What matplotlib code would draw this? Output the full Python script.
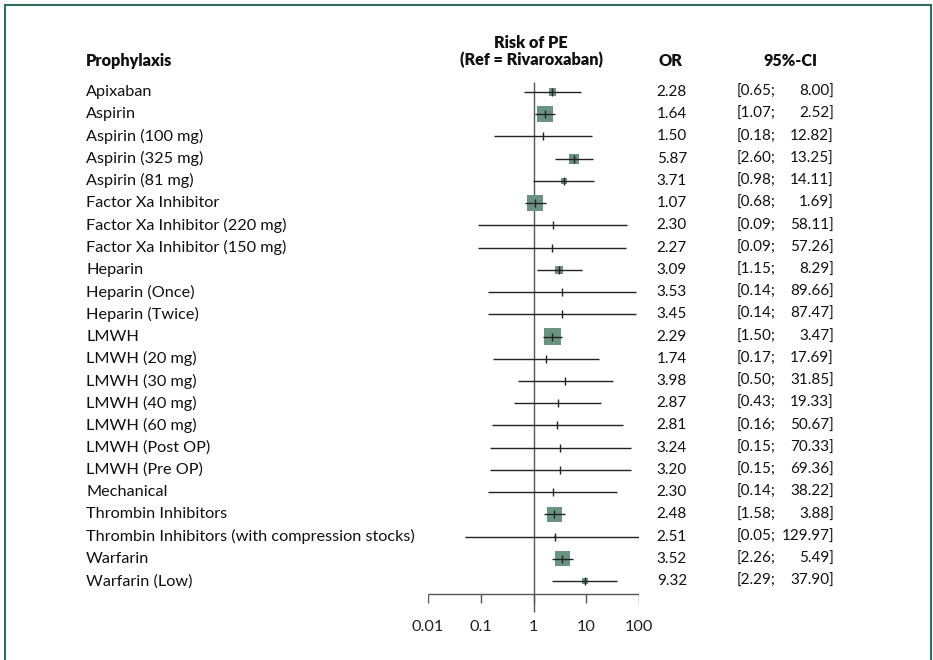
import numpy as np
import matplotlib
matplotlib.use("Agg")
import matplotlib.pyplot as plt
import matplotlib.transforms as mtransforms
from matplotlib.lines import Line2D

# forest plot data: risk of PE vs rivaroxaban
labels = [
    "Apixaban", "Aspirin", "Aspirin (100 mg)", "Aspirin (325 mg)", "Aspirin (81 mg)",
    "Factor Xa Inhibitor", "Factor Xa Inhibitor (220 mg)", "Factor Xa Inhibitor (150 mg)",
    "Heparin", "Heparin (Once)", "Heparin (Twice)", "LMWH", "LMWH (20 mg)",
    "LMWH (30 mg)", "LMWH (40 mg)", "LMWH (60 mg)", "LMWH (Post OP)", "LMWH (Pre OP)",
    "Mechanical", "Thrombin Inhibitors", "Thrombin Inhibitors (with compression stocks)",
    "Warfarin", "Warfarin (Low)",
]
odds_ratio = [2.28, 1.64, 1.50, 5.87, 3.71, 1.07, 2.30, 2.27, 3.09, 3.53, 3.45, 2.29,
              1.74, 3.98, 2.87, 2.81, 3.24, 3.20, 2.30, 2.48, 2.51, 3.52, 9.32]
ci_lower = [0.65, 1.07, 0.18, 2.60, 0.98, 0.68, 0.09, 0.09, 1.15, 0.14, 0.14, 1.50,
            0.17, 0.50, 0.43, 0.16, 0.15, 0.15, 0.14, 1.58, 0.05, 2.26, 2.29]
ci_upper = [8.00, 2.52, 12.82, 13.25, 14.11, 1.69, 58.11, 57.26, 8.29, 89.66, 87.47, 3.47,
            17.69, 31.85, 19.33, 50.67, 70.33, 69.36, 38.22, 3.88, 129.97, 5.49, 37.90]
# study weights in percent
weights = [3.2, 16.5, 0.1, 6.5, 2.3, 16.5, 0.1, 0.1, 4.1, 0.1, 0.1, 18.7, 0.1,
           0.1, 0.1, 0.1, 0.1, 0.1, 0.1, 14.5, 0.1, 14.5, 2.3]
x_ticks = [0.01, 0.1, 1, 10, 100]
x_tick_labels = ["0.01", "0.1", "1", "10", "100"]

W, H = 933, 660
plt.rcParams['font.family'] = ['Lato', 'DejaVu Sans']
fs = 11.7      # labels
fs_num = 11.0  # numeric columns
line_col = '#222222'
axis_col = '#555555'
box_col = '#6a9382'
border_col = '#2f6e5c'

fig = plt.figure(figsize=(W / 100, H / 100), dpi=100)

# pixel helpers (layout only)
ROW0, ROWSTEP = 92, 22.23
def row_at(py):
    return (py - ROW0) / ROWSTEP
def fx(px):
    return px / W

ax_top, ax_bot = 30, 650
ax = fig.add_axes([fx(428), 1 - ax_bot / H, (639 - 428) / W, (ax_bot - ax_top) / H])
ax.set_xscale('log')
ax.set_xlim(0.01, 100)
ax.set_ylim(row_at(ax_bot), row_at(ax_top))
ax.axis('off')

rows = np.arange(len(labels))
trans = mtransforms.blended_transform_factory(fig.transFigure, ax.transData)

# reference line at OR = 1
ax.vlines(1, row_at(82), row_at(612), color=axis_col, lw=1, zorder=1)

# boxes, CI lines, point ticks
side_px = 3.94 * np.sqrt(np.array(weights))
ax.scatter(odds_ratio, rows, marker='s', s=(side_px * 0.72) ** 2, color=box_col,
           edgecolors='none', zorder=2)
ax.hlines(rows, ci_lower, ci_upper, color=line_col, lw=1, zorder=3)
ax.plot(odds_ratio, rows, ls='none', marker='|', markersize=5.5, mew=1,
        color=line_col, zorder=4)

# x axis drawn by hand
y_axis = row_at(594)
ax.hlines(y_axis, x_ticks[0], x_ticks[-1], color=axis_col, lw=1)
ax.vlines(x_ticks, y_axis, row_at(603), color=axis_col, lw=1)
for t, lab in zip(x_ticks, x_tick_labels):
    ax.text(t, row_at(627), lab, ha='center', va='center', fontsize=fs, color='#222222')

# text columns
for r, name, o, lo, hi in zip(rows, labels, odds_ratio, ci_lower, ci_upper):
    ax.text(fx(86), r, name, transform=trans, ha='left', va='center', fontsize=fs, color='#111111')
    ax.text(fx(687), r, f"{o:.2f}", transform=trans, ha='right', va='center', fontsize=fs_num, color='#111111')
    ax.text(fx(737), r, f"[{lo:.2f};", transform=trans, ha='left', va='center', fontsize=fs_num, color='#111111')
    ax.text(fx(834), r, f"{hi:.2f}]", transform=trans, ha='right', va='center', fontsize=fs_num, color='#111111')

# headers
hdr = dict(transform=trans, va='center', fontsize=fs, fontweight='heavy', color='#111111')
ax.text(fx(86), row_at(61), "Prophylaxis", ha='left', **hdr)
ax.text(fx(531), row_at(43), "Risk of PE", ha='center', **hdr)
ax.text(fx(531), row_at(60), "(Ref = Rivaroxaban)", ha='center', **hdr)
ax.text(fx(670), row_at(61), "OR", ha='center', **hdr)
ax.text(fx(791), row_at(61), "95%-CI", ha='center', **hdr)

# frame around the figure (open at the bottom)
for xs, ys in [([4.5 / W, 4.5 / W], [0, 1 - 4.5 / H]),
               ([4.5 / W, 930.5 / W], [1 - 4.5 / H, 1 - 4.5 / H]),
               ([930.5 / W, 930.5 / W], [1 - 4.5 / H, 0])]:
    fig.add_artist(Line2D(xs, ys, color=border_col, lw=1.5))

fig.savefig("out.png", dpi=100)
